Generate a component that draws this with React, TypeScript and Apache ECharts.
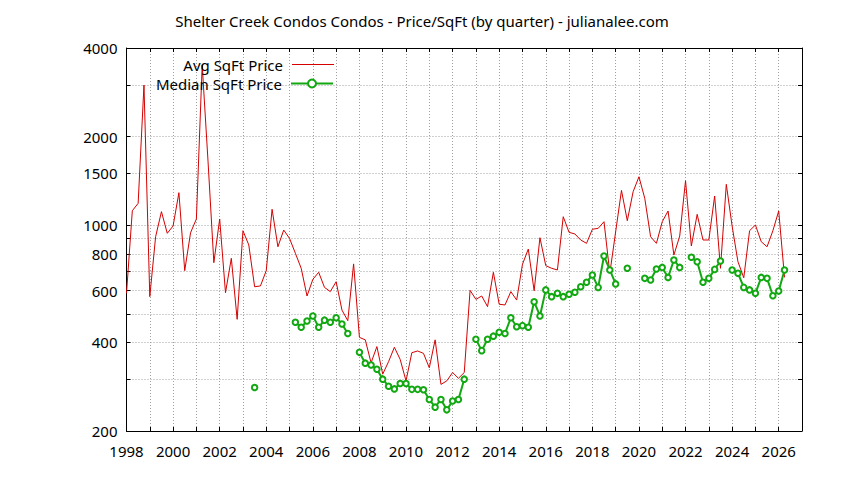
import React, { useEffect, useRef } from "react";
import * as echarts from "echarts";

// quarterly periods from 1998 Q1 to 2026 Q2
const quarters: string[] = [];
for (let y = 1998; y <= 2026; y++) {
  for (let q = 1; q <= 4; q++) {
    if (y === 2026 && q > 2) break;
    quarters.push(`${y} Q${q}`);
  }
}

const avgSqFtPrice: (number | null)[] = [
  587, 1120, 1187, 2994,
  572, 914, 1112, 939,
  994, 1290, 701, 943,
  1050, 3502, 1650, 746,
  1050, 590, 772, 479,
  958, 857, 618, 622,
  701, 1133, 845, 963,
  902, 803, 714, 575,
  655, 692, 615, 595,
  643, 515, 474, 739,
  416, 408, 341, 387,
  312, 344, 385, 350,
  296, 369, 374, 367,
  328, 408, 288, 296,
  316, 302, 316, 601,
  560, 575, 529, 692,
  539, 536, 595, 557,
  737, 830, 599, 907,
  729, 714, 705, 1069,
  946, 934, 891, 868,
  969, 976, 1028, 687,
  950, 1313, 1036, 1300,
  1461, 1234, 914, 868,
  1028, 1118, 792, 919,
  1416, 850, 1089, 891,
  891, 1257, 714, 1377,
  994, 752, 663, 958,
  1002, 879, 845, 958,
  1118, 665,
];

const medianSqFtPrice: (number | null)[] = [
  null, null, null, null,
  null, null, null, null,
  null, null, null, null,
  null, null, null, null,
  null, null, null, null,
  null, null, 281, null,
  null, null, null, null,
  null, 468, 450, 473,
  492, 450, 476, 468,
  485, 462, 429, null,
  370, 340, 335, 324,
  300, 284, 278, 290,
  290, 277, 277, 276,
  256, 241, 256, 236,
  253, 256, 300, null,
  410, 375, 410, 420,
  433, 429, 485, 452,
  456, 450, 550, 492,
  603, 572, 587, 572,
  583, 592, 618, 640,
  678, 615, 786, 705,
  632, null, 714, null,
  null, 660, 652, 710,
  719, 665, 762, 719,
  null, 778, 752, 640,
  660, 708, 756, null,
  705, 687, 615, 603,
  587, 665, 660, 576,
  598, 705,
];

const yLabelValues = [200, 400, 600, 800, 1000, 1500, 2000, 4000];
const yTickValues = [200, 300, 400, 500, 600, 700, 800, 900, 1000, 1500, 2000, 3000, 4000];

const FONT = "Noto Sans";
const AVG_COLOR = "#d40000";
const MED_COLOR = "#12a812";

function quarterToX(label: string): number {
  const [y, q] = label.split(" Q");
  return Number(y) + (Number(q) - 1) / 4;
}

export default function App() {
  const ref = useRef<HTMLDivElement>(null);
  useEffect(() => {
    if (!ref.current) return;
    const chart = echarts.init(ref.current, null, { renderer: "svg" });
    const xs = quarters.map(quarterToX);
    const avgData = xs.map((x, i) => [x, avgSqFtPrice[i]]);
    const medData = xs.map((x, i) => [x, medianSqFtPrice[i]]);
    const gridLine = { show: true, lineStyle: { color: "#a0a0a0", type: [1, 2] as any, width: 1 } };
    const yCommon = {
      type: "log" as const,
      logBase: 10,
      min: 200,
      max: 4000,
      axisLine: { show: true, lineStyle: { color: "#000", width: 1 } },
    };
    const legendText = { fontFamily: FONT, fontSize: 15, color: "#000", padding: [0, 4, 0, 0] };
    chart.setOption({
      animation: false,
      backgroundColor: "#fff",
      textStyle: { fontFamily: FONT },
      title: {
        text: "Shelter Creek Condos Condos - Price/SqFt (by quarter) - julianalee.com",
        left: "center",
        top: 8,
        textStyle: { fontFamily: FONT, fontSize: 15, fontWeight: "normal", color: "#000" },
      },
      legend: [
        {
          data: [{ name: "Avg SqFt Price", icon: "rect", itemStyle: { color: AVG_COLOR } }],
          right: 505,
          top: 52,
          align: "right",
          itemWidth: 42,
          itemHeight: 1,
          selectedMode: false,
          textStyle: legendText,
        },
        {
          data: ["Median SqFt Price"],
          right: 505,
          top: 71,
          align: "right",
          itemWidth: 42,
          itemHeight: 10,
          selectedMode: false,
          textStyle: legendText,
        },
      ],
      grid: { left: 126.5, right: 42, top: 48, bottom: 49 },
      xAxis: [
        {
          type: "value",
          min: 1998,
          max: 2027,
          interval: 1,
          position: "bottom",
          axisLine: { show: true, lineStyle: { color: "#000", width: 1 } },
          axisTick: { show: true, inside: true, length: 4, lineStyle: { color: "#000" } },
          axisLabel: {
            show: true,
            margin: 12,
            color: "#000",
            fontFamily: FONT,
            fontSize: 15,
            formatter: (v: number) => (v % 2 === 0 ? String(v) : ""),
          },
          splitLine: gridLine,
        },
        {
          type: "value",
          min: 1998,
          max: 2027,
          interval: 1,
          position: "top",
          axisLine: { show: true, lineStyle: { color: "#000", width: 1 } },
          axisTick: { show: true, inside: true, length: 4, lineStyle: { color: "#000" } },
          axisLabel: { show: false },
          splitLine: { show: false },
        },
      ],
      yAxis: [
        {
          ...yCommon,
          position: "left",
          axisTick: { show: true, inside: true, length: 4, customValues: yTickValues, lineStyle: { color: "#000" } },
          axisLabel: {
            show: true,
            customValues: yLabelValues,
            margin: 9,
            color: "#000",
            fontFamily: FONT,
            fontSize: 15,
            formatter: (v: number) => String(v),
          },
          splitLine: gridLine,
        },
        {
          ...yCommon,
          position: "right",
          axisTick: { show: true, inside: true, length: 4, customValues: yTickValues, lineStyle: { color: "#000" } },
          axisLabel: { show: false },
          splitLine: { show: false },
        },
      ],
      series: [
        {
          name: "Avg SqFt Price",
          type: "line",
          xAxisIndex: 0,
          yAxisIndex: 0,
          data: avgData,
          showSymbol: false,
          symbol: "none",
          connectNulls: false,
          lineStyle: { color: AVG_COLOR, width: 1 },
          itemStyle: { color: AVG_COLOR },
        },
        {
          name: "Median SqFt Price",
          type: "line",
          xAxisIndex: 0,
          yAxisIndex: 0,
          data: medData,
          symbol: "emptyCircle",
          symbolSize: 5.5,
          showSymbol: true,
          showAllSymbol: true,
          connectNulls: false,
          lineStyle: { color: MED_COLOR, width: 2 },
          itemStyle: { color: MED_COLOR, borderColor: MED_COLOR, borderWidth: 1.5 },
        },
      ],
    });
    return () => chart.dispose();
  }, []);
  return (
    <div
      ref={ref}
      style={{ position: "fixed", left: 0, top: 0, width: 844, height: 480, background: "#fff" }}
    />
  );
}
